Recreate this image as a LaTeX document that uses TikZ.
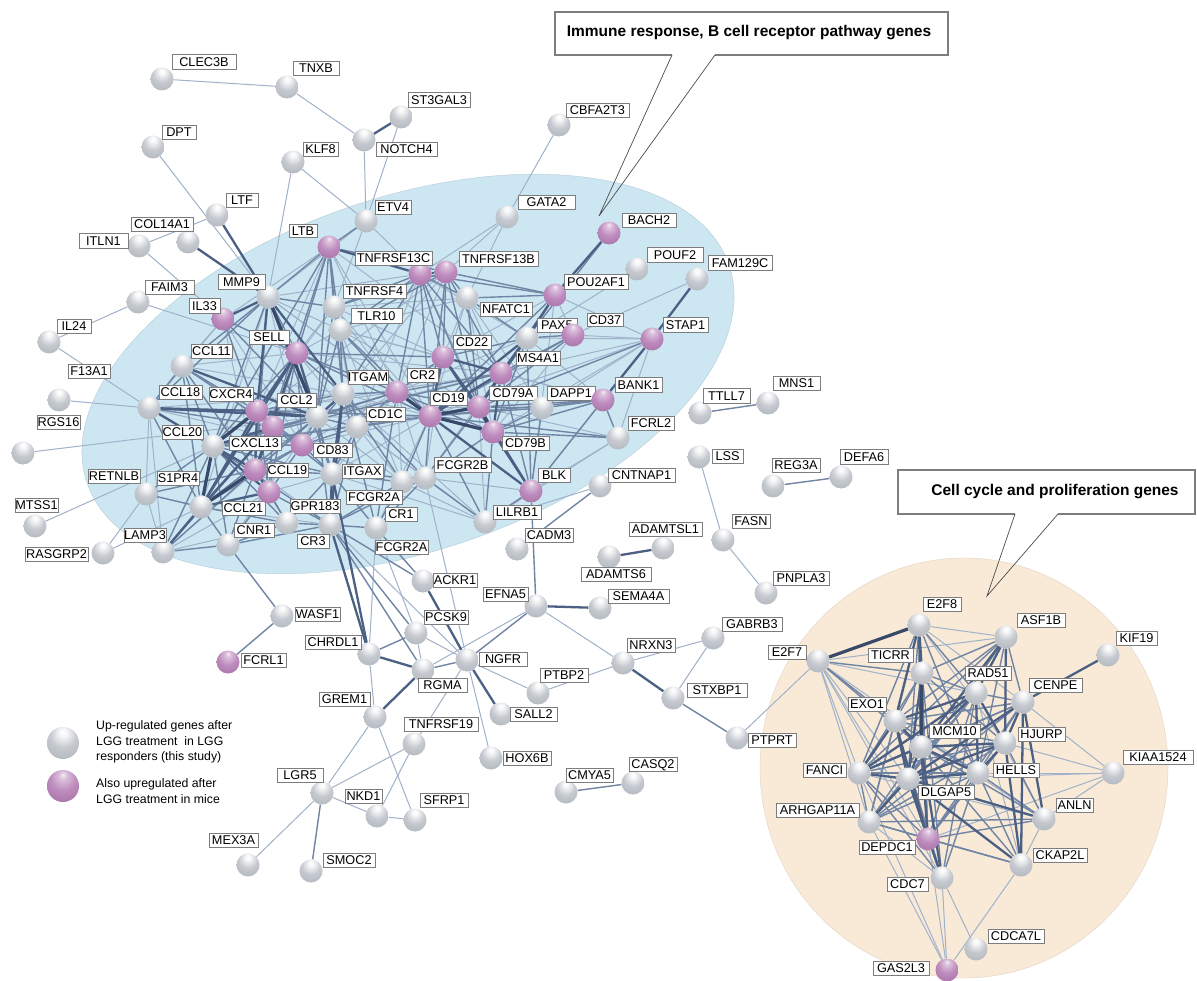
\documentclass[tikz,border=0pt]{standalone}
\usepackage{fontspec}
\setmainfont{Liberation Sans}
\usetikzlibrary{shapes.geometric}
\pgfdeclarelayer{bg}\pgfdeclarelayer{edges}\pgfsetlayers{bg,edges,main}
\definecolor{sg1}{RGB}{198,202,208}
\definecolor{sg2}{RGB}{165,170,178}
\definecolor{sg3}{RGB}{132,137,146}
\definecolor{sp1}{RGB}{190,140,190}
\definecolor{sp2}{RGB}{156,100,156}
\definecolor{sp3}{RGB}{118,70,118}
\pgfdeclareradialshading{sgray}{\pgfqpoint{0bp}{18bp}}{color(0bp)=(white); color(6bp)=(white!85!sg1); color(20bp)=(sg1); color(48bp)=(sg2); color(62bp)=(sg3); color(70bp)=(sg3)}
\pgfdeclareradialshading{spurple}{\pgfqpoint{0bp}{18bp}}{color(0bp)=(white!85!sp1); color(6bp)=(white!45!sp1); color(20bp)=(sp1); color(48bp)=(sp2); color(62bp)=(sp3); color(70bp)=(sp3)}
\definecolor{labgray}{RGB}{125,125,125}
\definecolor{ec1}{RGB}{160,178,202}
\definecolor{ec2}{RGB}{112,132,164}
\definecolor{ec3}{RGB}{76,96,132}
\definecolor{ec4}{RGB}{56,73,106}
\definecolor{blueel}{RGB}{204,231,242}
\definecolor{beige}{RGB}{248,234,215}
\newcommand\labfont{\fontsize{12.7}{14}\selectfont}
\newcommand\sph[4]{\node[#4] (#1) at (#2,#3) {};}
\newcommand\lbl[6]{\node[lab, minimum width={(#4)-(#2)}, minimum height={(#5)-(#3)}] (#1) at ({((#2)+(#4))/2},{((#3)+(#5))/2}) {#6};}
\newcommand\gene[9]{\sph{#1}{#2}{#3}{#4}\lbl{#1l}{#5}{#6}{#7}{#8}{#9}}
\tikzset{
 gs/.style={circle, minimum size=23pt, inner sep=0pt, shading=sgray},
 ps/.style={circle, minimum size=23pt, inner sep=0pt, shading=spurple},
 gsL/.style={gs, minimum size=32pt},
 psL/.style={ps, minimum size=32pt},
 lab/.style={draw=labgray, line width=0.7pt, fill=white, inner sep=0pt, font=\labfont, text height=9.2pt, text depth=0pt},
 e1/.style={draw=ec1, line width=1.0pt},
 e2/.style={draw=ec2, line width=1.4pt},
 e3/.style={draw=ec3, line width=2.3pt},
 e4/.style={draw=ec4, line width=3.2pt},
 callout/.style={draw=labgray, line width=1.1pt},
 pointer/.style={draw=black!70, line width=0.7pt},
 head/.style={font=\fontsize{15.5}{18}\selectfont\bfseries, inner sep=0pt},
 legtext/.style={font=\fontsize{12.3}{15.5}\selectfont, align=left, inner sep=0pt, anchor=west}
}
\begin{document}
\begin{tikzpicture}[x=1pt,y=-1pt]
\useasboundingbox (0,0) rectangle (1197,981);
\begin{pgfonlayer}{bg}
\fill[white] (0,0) rectangle (1197,981);
\node[ellipse, fill=blueel, draw=blueel!85!black, line width=0.3pt, minimum width=678pt, minimum height=354pt, inner sep=0pt, rotate=18.7] (blueellipse) at (408,374) {};
\node[ellipse, fill=beige, draw=beige!88!black, line width=0.3pt, minimum width=408pt, minimum height=420pt, inner sep=0pt] (beigecircle) at (964,768) {};
\end{pgfonlayer}

% callouts
\draw[callout] (672,55) -- (555,55) -- (555,12) -- (948,12) -- (948,55) -- (715,55);
\coordinate (tip1) at (599,216);
\draw[pointer] (672,55) -- (tip1) -- (715,55);
\node[head] (head1) at (749,33) {Immune response, B cell receptor pathway genes};
\draw[callout] (1015,514) -- (898,514) -- (898,470) -- (1195,470) -- (1195,514) -- (1058,514);
\coordinate (tip2) at (987,596);
\draw[pointer] (1015,514) -- (tip2) -- (1058,514);
\node[head] (head2) at (1055,492) {Cell cycle and proliferation genes};

% nodes
\gene{clec}{162}{79}{gs}{172}{54}{236}{69}{CLEC3B}
\gene{tnxb}{287}{87}{gs}{293}{61}{339}{75}{TNXB}
\gene{stg}{401}{117}{gs}{408}{92}{470}{107}{ST3GAL3}
\gene{dpt}{153}{147}{gs}{162}{125}{196}{139}{DPT}
\gene{klf}{293}{162}{gs}{303}{142}{338}{156}{KLF8}
\gene{notch}{364}{140}{gs}{376}{142}{437}{156}{NOTCH4}
\gene{cbfa}{559}{125}{gs}{566}{103}{629}{117}{CBFA2T3}
\gene{ltf}{217}{215}{gs}{226}{193}{258}{207}{LTF}
\gene{etv}{366}{221}{gs}{375}{200}{411}{214}{ETV4}
\gene{col}{188}{242}{gs}{131}{217}{193}{231}{COL14A1}
\gene{itln}{139}{246}{gs}{79}{233}{128}{248}{ITLN1}
\gene{ltb}{329}{247}{ps}{289}{224}{317}{237}{LTB}
\gene{tc}{420}{274}{ps}{355}{251}{432}{265}{TNFRSF13C}
\gene{tb}{446}{272}{ps}{459}{251}{538}{266}{TNFRSF13B}
\gene{gata}{507}{217}{gs}{518}{195}{575}{209}{GATA2}
\gene{bach}{609}{233}{ps}{622}{213}{676}{227}{BACH2}
\gene{pouf}{637}{269}{gs}{647}{247}{703}{262}{POUF2}
\gene{fam}{697}{279}{gs}{708}{255}{772}{270}{FAM129C}
\gene{pou}{555}{295}{ps}{564}{274}{628}{289}{POU2AF1}
\gene{mmp}{268}{297}{gs}{218}{274}{265}{289}{MMP9}
\gene{faim}{138}{302}{gs}{145}{280}{194}{294}{FAIM3}
\gene{ilt}{223}{319}{ps}{189}{298}{220}{313}{IL33}
\gene{tf4}{334}{307}{gs}{343}{284}{406}{298}{TNFRSF4}
\gene{nfat}{467}{298}{gs}{480}{302}{532}{316}{NFATC1}
\gene{tlr}{340}{330}{gs}{351}{308}{402}{323}{TLR10}
\gene{pax}{527}{338}{gs}{537}{318}{577}{332}{PAX5}
\gene{cdts}{573}{335}{ps}{587}{313}{623}{326}{CD37}
\gene{stap}{652}{339}{ps}{663}{317}{708}{332}{STAP1}
\gene{ilb}{49}{342}{gs}{57}{319}{91}{333}{IL24}
\gene{sell}{297}{353}{ps}{249}{330}{289}{344}{SELL}
\gene{cd22}{443}{357}{ps}{453}{335}{491}{349}{CD22}
\gene{ccle}{182}{366}{gs}{191}{344}{232}{358}{CCL11}
\gene{ms4}{501}{373}{ps}{516}{351}{560}{365}{MS4A1}
\gene{ccl18}{149}{408}{gs}{159}{385}{202}{399}{CCL18}
\gene{cxcr}{257}{411}{ps}{209}{387}{253}{401}{CXCR4}
\gene{ccl2}{317}{417}{gs}{277}{393}{316}{407}{CCL2}
\sph{pk}{273}{427}{ps}
\gene{itgam}{343}{394}{gs}{348}{370}{388}{384}{ITGAM}
\gene{cr2}{397}{392}{ps}{407}{368}{438}{382}{CR2}
\gene{cd79a}{479}{407}{ps}{489}{386}{537}{400}{CD79A}
\gene{dapp}{542}{408}{gs}{547}{386}{595}{400}{DAPP1}
\gene{bank}{603}{400}{ps}{615}{377}{662}{392}{BANK1}
\gene{rgs}{59}{400}{gs}{37}{415}{80}{429}{RGS16}
\gene{cd19}{430}{416}{ps}{430}{391}{467}{405}{CD19}
\gene{cd1c}{357}{427}{gs}{366}{407}{405}{421}{CD1C}
\gene{ttll}{700}{413}{gs}{703}{388}{750}{403}{TTLL7}
\gene{mns}{768}{403}{gs}{773}{376}{820}{390}{MNS1}
\lbl{f13l}{68}{364}{110}{378}{F13A1}
\lbl{ccl20l}{162}{425}{203}{439}{CCL20}
\gene{cxcl}{213}{446}{gs}{229}{436}{281}{450}{CXCL13}
\gene{cd83}{302}{445}{ps}{313}{443}{352}{457}{CD83}
\gene{cd79b}{493}{432}{ps}{502}{436}{549}{450}{CD79B}
\gene{fcrlb}{618}{438}{gs}{628}{416}{674}{430}{FCRL2}
\sph{nl}{23}{453}{gs}
\lbl{retl}{88}{469}{140}{483}{RETNLB}
\gene{sip}{146}{494}{gs}{157}{471}{199}{485}{S1PR4}
\gene{ccl19}{255}{470}{ps}{267}{463}{308}{477}{CCL19}
\gene{itgax}{332}{474}{gs}{342}{464}{383}{478}{ITGAX}
\sph{fa}{402}{482}{gs}
\gene{fb}{425}{478}{gs}{434}{457}{491}{472}{FCGR2B}
\gene{lss}{699}{457}{gs}{712}{449}{743}{463}{LSS}
\gene{reg}{773}{486}{gs}{772}{458}{820}{472}{REG3A}
\gene{defa}{841}{477}{gs}{840}{449}{888}{464}{DEFA6}
\gene{mtss}{35}{526}{gs}{15}{498}{58}{512}{MTSS1}
\gene{ccltw}{201}{507}{gs}{222}{501}{265}{515}{CCL21}
\gene{gpr}{269}{492}{ps}{290}{499}{340}{513}{GPR183}
\lbl{fcal}{346}{490}{402}{504}{FCGR2A}
\gene{blk}{531}{491}{ps}{538}{468}{570}{482}{BLK}
\gene{cntn}{600}{486}{gs}{608}{468}{675}{482}{CNTNAP1}
\gene{lil}{485}{522}{gs}{493}{505}{541}{519}{LILRB1}
\gene{cro}{376}{528}{gs}{385}{507}{417}{521}{CR1}
\gene{cnr}{228}{545}{gs}{234}{523}{274}{537}{CNR1}
\sph{gx}{287}{523}{gs}
\gene{crt}{330}{525}{gs}{297}{534}{329}{548}{CR3}
\lbl{fcbl}{375}{540}{428}{554}{FCGR2A}
\gene{lamp}{163}{552}{gs}{124}{528}{166}{542}{LAMP3}
\gene{ras}{103}{553}{gs}{25}{547}{88}{561}{RASGRP2}
\gene{cadm}{517}{549}{gs}{525}{528}{573}{542}{CADM3}
\gene{adl}{663}{548}{gs}{629}{522}{702}{536}{ADAMTSL1}
\gene{fasn}{723}{540}{gs}{732}{514}{770}{528}{FASN}
\gene{ads}{609}{557}{gs}{581}{567}{651}{581}{ADAMTS6}
\gene{ackr}{423}{581}{gs}{433}{573}{477}{587}{ACKR1}
\gene{efna}{536}{606}{gs}{483}{587}{528}{601}{EFNA5}
\gene{sema}{600}{608}{gs}{608}{589}{669}{603}{SEMA4A}
\gene{pnp}{766}{593}{gs}{773}{571}{829}{585}{PNPLA3}
\gene{wasf}{282}{616}{gs}{295}{607}{340}{621}{WASF1}
\gene{pcsk}{416}{633}{gs}{424}{610}{468}{624}{PCSK9}
\gene{chrd}{369}{654}{gs}{305}{635}{361}{649}{CHRDL1}
\gene{nrxn}{623}{663}{gs}{627}{638}{675}{652}{NRXN3}
\gene{gab}{713}{638}{gs}{722}{617}{782}{631}{GABRB3}
\gene{eeight}{919}{625}{gs}{923}{597}{961}{611}{E2F8}
\gene{asf}{1006}{637}{gs}{1017}{613}{1065}{627}{ASF1B}
\gene{kif}{1108}{655}{gs}{1116}{631}{1157}{645}{KIF19}
\gene{eseven}{818}{661}{gs}{768}{645}{806}{659}{E2F7}
\gene{fcrlone}{228}{662}{ps}{241}{653}{286}{667}{FCRL1}
\gene{ngfr}{467}{660}{gs}{479}{652}{527}{666}{NGFR}
\gene{rgma}{423}{670}{gs}{418}{678}{467}{692}{RGMA}
\gene{ptbp}{538}{693}{gs}{540}{668}{588}{682}{PTBP2}
\gene{ticrr}{922}{673}{gs}{868}{648}{913}{662}{TICRR}
\gene{rad}{976}{693}{gs}{965}{666}{1011}{680}{RAD51}
\gene{cenpe}{1023}{702}{gs}{1029}{678}{1082}{692}{CENPE}
\gene{stx}{673}{698}{gs}{687}{683}{747}{697}{STXBP1}
\gene{grem}{375}{717}{gs}{319}{692}{370}{706}{GREM1}
\gene{sall}{501}{714}{gs}{510}{707}{557}{721}{SALL2}
\gene{exo}{895}{721}{gs}{848}{697}{886}{711}{EXO1}
\gene{ptprt}{737}{738}{gs}{748}{733}{796}{747}{PTPRT}
\gene{tnt}{414}{744}{gs}{404}{717}{478}{731}{TNFRSF19}
\gene{mcm}{921}{747}{gs}{929}{724}{980}{738}{MCM10}
\gene{hjurp}{1005}{743}{gs}{1018}{727}{1065}{741}{HJURP}
\gene{hox}{491}{758}{gs}{503}{751}{551}{765}{HOX6B}
\gene{fanci}{859}{773}{gs}{803}{763}{846}{777}{FANCI}
\gene{hells}{978}{773}{gs}{993}{763}{1039}{777}{HELLS}
\gene{kiaa}{1113}{773}{gs}{1123}{750}{1193}{764}{KIAA1524}
\gene{dlg}{908}{779}{gs}{918}{785}{974}{799}{DLGAP5}
\gene{casq}{633}{783}{gs}{629}{757}{677}{771}{CASQ2}
\gene{cmya}{566}{792}{gs}{566}{768}{613}{782}{CMYA5}
\gene{lgr}{322}{793}{gs}{277}{768}{323}{782}{LGR5}
\gene{nkd}{377}{816}{gs}{345}{789}{382}{803}{NKD1}
\gene{sfrp}{415}{820}{gs}{420}{793}{468}{807}{SFRP1}
\gene{anln}{1044}{819}{gs}{1056}{798}{1093}{812}{ANLN}
\gene{arh}{869}{822}{gs}{776}{803}{859}{817}{ARHGAP11A}
\gene{dep}{928}{839}{ps}{859}{840}{915}{854}{DEPDC1}
\gene{ckap}{1021}{865}{gs}{1033}{848}{1087}{862}{CKAP2L}
\gene{cdcs}{942}{878}{gs}{887}{877}{928}{891}{CDC7}
\gene{mex}{248}{865}{gs}{209}{833}{258}{847}{MEX3A}
\gene{smoc}{311}{871}{gs}{323}{853}{375}{867}{SMOC2}
\gene{cdca}{976}{949}{gs}{988}{929}{1044}{943}{CDCA7L}
\gene{gas}{947}{970}{ps}{873}{961}{929}{975}{GAS2L3}

% legend
\node[gsL] (leggray) at (63,743) {};
\node[psL] (legpurple) at (63,786) {};
\node[legtext] (legt1) at (96,742) {Up-regulated genes after\\LGG treatment\ \ in LGG\\responders (this study)};
\node[legtext] (legt2) at (96,791) {Also upregulated after\\LGG treatment in mice};

\begin{pgfonlayer}{edges}
\foreach \a/\b in {clec/tnxb, tnxb/notch, notch/etv, stg/etv, klf/etv, klf/mmp, dpt/mmp, itln/ltf, itln/ilt, ilb/faim, faim/sell, ilb/ccl18, rgs/ccl18, nl/ccl2, mtss/cxcl, ras/sip, ras/ccltw, cbfa/gata, gata/nfat, gata/tc, pouf/pax, fam/cdts, lss/fasn, fasn/pnp, gab/nrxn, gab/stx, ptprt/eseven, nrxn/efna, nrxn/ptbp, ngfr/ptbp, ngfr/hox, ngfr/tnt, chrd/grem, grem/lgr, grem/sfrp, tnt/lgr, tnt/nkd, lgr/nkd, lgr/mex, nkd/sfrp, efna/rgma, pcsk/rgma, ngfr/pcsk,
 mmp/cd83, mmp/ccltw, mmp/tlr, mmp/cr2, mmp/cd19, ilt/ccle, ilt/ccl18, ilt/cd83, ilt/ltb, ilt/ccl19, sell/tf4, sell/ccle, sell/cd1c, sell/tlr, sell/ms4, ccle/cd83, ccle/itgam, ccl18/sip, ccl18/lamp, ccl18/itgam, ccl18/cd83, cxcr/cr2, cxcr/ms4, cxcr/cd79a, cxcr/ltb, cxcr/tf4, ccl2/cd19, ccl2/ms4, ccl2/fa, ccl2/cnr, ccl2/lamp, cxcl/cd79a, cxcl/tb, cd83/cr2, cd83/cd19, cd83/fa, ccl19/crt, gpr/lamp, gpr/itgax, ccltw/crt, lamp/sip, lamp/gx, crt/ngfr, itgax/lil, itgax/cr2, itgax/cd19, itgam/tlr, itgam/cd19, itgam/lil, fa/lil, fb/blk, fb/cd22, fa/cd1c, fb/ms4, fa/cr2, fb/cr2, cro/cd19, cro/chrd, cro/pcsk, cd19/stap, cd19/nfat, cd19/tf4, cd19/ltb, cd22/tlr, cd22/cd1c, cd22/pou, cd22/bank, cd22/tf4, cd22/nfat, cd79a/fcrlb, cd79a/lil, cd79a/tlr, cd79b/stap, cd79b/cdts, cd79b/tc, ms4/bank, ms4/nfat, ms4/tlr, ms4/ltb, cr2/tb, cr2/ltb, cr2/tf4, cr2/pax, cr2/blk, pax/bank, pax/stap, pax/tc, pou/cdts, pou/blk, pou/stap, blk/fcrlb, blk/stap, stap/dapp, stap/cdts, tb/gata, tc/cd1c, tb/itgam, tc/mmp, etv/mmp, etv/tf4, etv/tc, tf4/cd1c, tf4/nfat, tlr/nfat, tlr/fa, nfat/cd79b, nfat/dapp, cd1c/fb, lil/cd1c, fcrlb/stap, stap/ms4, fcrlb/lil, fb/ngfr, cntn/lil,
 eseven/fanci, eseven/arh, eseven/dlg, eseven/rad, eseven/hells, eseven/dep, eseven/cdcs, eseven/asf, eeight/asf, eeight/cenpe, eeight/hjurp, rad/anln, rad/ckap, exo/anln, cenpe/kiaa, hjurp/kiaa, hells/kiaa, dlg/kiaa, anln/kiaa, dep/kiaa, fanci/anln, arh/cdcs, arh/gas, dep/gas, anln/ckap, ckap/gas, cdcs/gas, cdcs/cdca, fanci/gas}
 \draw[e1] (\a) -- (\b);
\foreach \a/\b in {ttll/mns, reg/defa, cmya/casq, stx/ptprt, ngfr/rgma, lgr/smoc, wasf/fcrlone, cnr/wasf, cntn/cadm, efna/ngfr, chrd/pcsk, crt/pcsk, cro/ackr, crt/ackr, crt/rgma, ltb/etv,
 mmp/sell, mmp/ccle, mmp/ccl18, mmp/tf4, mmp/ltb, mmp/cxcl, mmp/ccl19, mmp/itgax, ilt/sell, ilt/ccl2, ilt/cxcr, sell/cd83, sell/itgam, sell/itgax, sell/cxcl, sell/pk, sell/cd19, sell/cr2, sell/ltb, sell/cd22, sell/gpr, ccle/ccl18, ccle/cxcr, ccle/cxcl, ccle/ccl19, ccle/ccltw, ccle/pk, ccl18/ccl19, ccl18/ccltw, ccl18/pk, cxcr/cd83, cxcr/itgam, cxcr/gpr, cxcr/cd19, pk/ccl2, pk/cd83, pk/gpr, pk/itgax, pk/lamp, ccl2/cd83, ccl2/ccl19, ccl2/ccltw, ccl2/cxcl, ccl2/itgax, ccl2/cd1c, ccl2/cr2, ccl2/tf4, ccl2/tlr, ccl2/crt, cxcl/cd83, cxcl/sip, cxcl/lamp, cxcl/cnr, cxcl/gx, cxcl/crt, cxcl/ms4, cxcl/cd19, cxcl/cr2, cxcl/ltb, cxcl/itgax, cd83/ccl19, cd83/ccltw, cd83/itgax, cd83/cd1c, cd83/itgam, cd83/gpr, ccl19/gx, ccl19/sip, ccl19/lamp, ccl19/cnr, ccl19/itgax, gpr/gx, gpr/cnr, gpr/crt, ccltw/sip, ccltw/cnr, ccltw/gx, lamp/cnr, cnr/gx, cnr/crt, gx/crt, gx/itgax, crt/fa, crt/fb, crt/cro, crt/cd1c, itgax/fa, itgax/fb, itgax/cro, itgax/cd1c, itgam/cd1c, itgam/fa, itgam/fb, itgam/cr2, itgam/cro, itgam/tf4, fa/cro, fb/cro, fa/cd19, fb/cd19, fb/cd79a, fb/cd79b, fb/lil, cro/cr2, cd19/bank, cd19/dapp, cd19/fcrlb, cd19/cdts, cd19/pou, cd19/tc, cd19/tb, cd19/tlr, cd19/cd1c, cd19/lil, cd22/cr2, cd22/pax, cd22/blk, cd22/tc, cd22/tb, cd79a/bank, cd79a/dapp, cd79a/stap, cd79a/cr2, cd79a/cdts, cd79a/pou, cd79a/tc, cd79a/tb, cd79a/nfat, cd79b/pax, cd79b/bank, cd79b/fcrlb, cd79b/dapp, cd79b/cr2, cd79b/lil, ms4/cr2, ms4/blk, ms4/cdts, ms4/pou, ms4/tc, ms4/tb, cr2/tc, cr2/cd1c, cr2/tlr, pax/cdts, pax/blk, pax/bach, pax/nfat, pou/nfat, pou/tc, pou/tb, blk/bank, blk/lil, blk/dapp, blk/efna, bank/dapp, bank/fcrlb, tb/ltb, tc/tf4, tb/tf4, tc/tlr, tb/tlr, tc/nfat, tb/nfat, tc/itgam, ltb/tf4, ltb/tlr, ltb/itgam, ltb/ccl2, ltb/ccl19, tf4/tlr, tlr/cd1c, tlr/itgam,
 eseven/exo, eseven/mcm, eseven/ticrr, eeight/rad, eeight/fanci, eeight/dlg, eeight/hells, eeight/arh, eeight/dep, asf/ticrr, asf/exo, asf/hells, asf/cenpe, asf/dlg, asf/fanci, ticrr/rad, ticrr/exo, ticrr/fanci, ticrr/hjurp, ticrr/hells, ticrr/dep, ticrr/cdcs, rad/cenpe, rad/dlg, rad/arh, rad/dep, rad/cdcs, cenpe/hells, cenpe/mcm, cenpe/exo, cenpe/fanci, cenpe/arh, cenpe/dep, exo/hjurp, exo/hells, exo/arh, exo/cdcs, mcm/arh, mcm/anln, mcm/ckap, hjurp/anln, hjurp/fanci, hjurp/dep, hjurp/arh, hells/fanci, hells/anln, hells/ckap, hells/dep, hells/cdcs, hells/arh, fanci/arh, fanci/dep, fanci/cdcs, arh/dep, arh/anln, arh/ckap, dep/anln, dep/ckap, dep/cdcs}
 \draw[e2] (\a) -- (\b);
\foreach \a/\b in {stg/notch, ltf/mmp, col/mmp, bach/pou, fam/stap, ads/adl, nrxn/stx, efna/sema, rgma/chrd, rgma/grem, kif/cenpe, ackr/ngfr, ngfr/sall, crt/chrd, itgax/chrd, bank/stap,
 mmp/ilt, mmp/cxcr, mmp/itgam, sell/ccl2, sell/cxcr, sell/ccl19, sell/ccltw, ccle/ccl2, ccl18/ccl2, ccl18/cxcr, ccl18/cxcl, cxcr/pk, cxcr/ccl2, cxcr/ccl19, cxcr/ccltw, pk/cxcl, pk/ccl19, pk/ccltw, ccl2/itgam, cxcl/ccl19, cxcl/gpr, ccl19/gpr, gpr/ccltw, ccltw/lamp, crt/itgax, crt/itgam, itgax/itgam, fa/fb, cd19/cd22, cd19/ms4, cd19/pax, cd19/blk, cd22/cd79a, cd22/cd79b, cd22/ms4, cd79a/ms4, cd79a/blk, cd79a/pax, cd79b/ms4, cd79b/blk, ms4/pax, pax/pou, tc/tb, tc/ltb,
 eeight/ticrr, eeight/exo, eeight/mcm, asf/rad, asf/mcm, asf/hjurp, ticrr/dlg, rad/exo, rad/mcm, rad/hjurp, rad/hells, rad/fanci, cenpe/hjurp, cenpe/dlg, cenpe/anln, cenpe/ckap, exo/mcm, exo/fanci, exo/dlg, exo/dep, mcm/fanci, mcm/dlg, mcm/hjurp, mcm/hells, mcm/dep, mcm/cdcs, hjurp/hells, hjurp/dlg, hjurp/ckap, hells/dlg, fanci/dlg, dlg/arh, dlg/dep, dlg/anln, dlg/ckap, dlg/cdcs}
 \draw[e3] (\a) -- (\b);
\foreach \a/\b in {cxcr/cxcl, cxcl/ccltw, ccl19/ccltw, cd19/cr2, cd19/cd79a, cd19/cd79b, cd79a/cd79b, mmp/ccl2, eseven/eeight, ticrr/mcm}
 \draw[e4] (\a) -- (\b);
\end{pgfonlayer}
\end{tikzpicture}
\end{document}
